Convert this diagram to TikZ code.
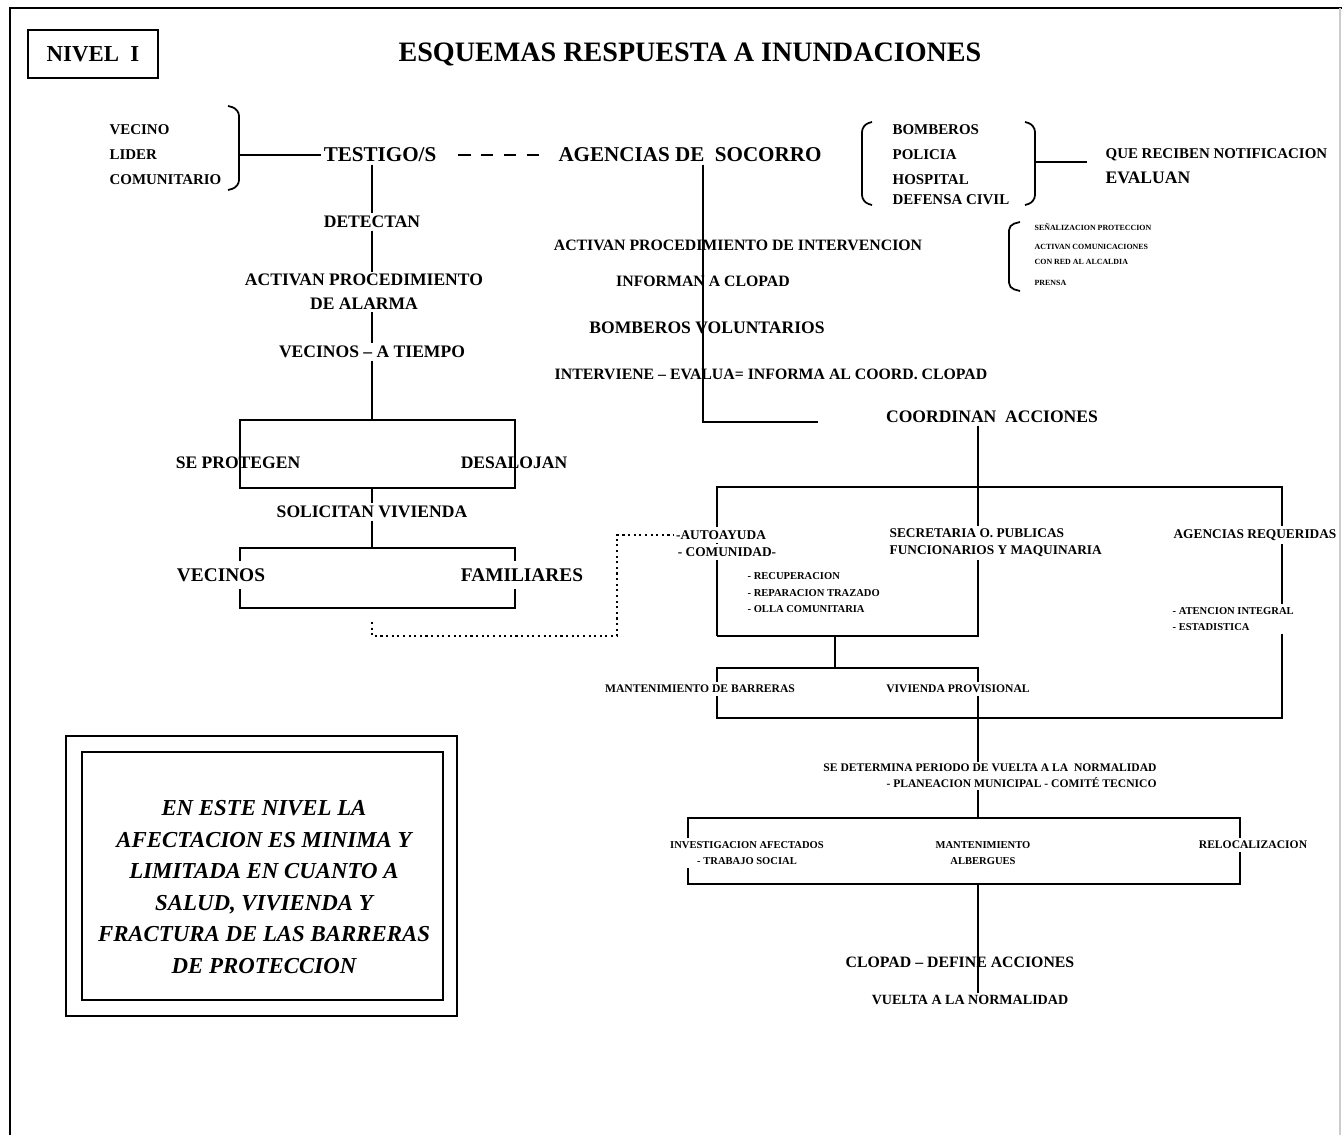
\documentclass[tikz,border=0pt]{standalone}
\usepackage{fontspec}
\setmainfont{Liberation Serif}
\usetikzlibrary{positioning, calc}

\tikzset{
  ttl/.style={font=\bfseries\fontsize{16}{19}\selectfont, inner sep=1pt},
  hd/.style={font=\bfseries\fontsize{12}{14}\selectfont, inner sep=1pt},
  lg/.style={font=\bfseries\fontsize{11}{13}\selectfont, inner sep=1pt},
  md/.style={font=\bfseries\fontsize{10}{13.6}\selectfont, inner sep=1pt},
  ms/.style={font=\bfseries\fontsize{9}{11}\selectfont, inner sep=1pt},
  ls/.style={font=\bfseries\fontsize{8.5}{14.2}\selectfont, inner sep=1pt},
  sm/.style={font=\bfseries\fontsize{7.6}{9.6}\selectfont, inner sep=1pt},
  xs/.style={font=\bfseries\fontsize{6.6}{9}\selectfont, inner sep=1pt},
  xt/.style={font=\bfseries\fontsize{6}{9.4}\selectfont, inner sep=1pt},
  xxs/.style={font=\bfseries\fontsize{4.5}{8.5}\selectfont, inner sep=1pt},
  note/.style={font=\bfseries\itshape\fontsize{13}{17.9}\selectfont, align=center},
  tapa/.style={fill=white, inner ysep=2pt},
}

\begin{document}
\begin{tikzpicture}[x=0.02cm, y=-0.02cm, line width=1pt]
  \useasboundingbox (0,0) rectangle (1342,1135);

  % frame and header
  \draw[line width=1.3pt] (10,1135) -- (10,8) -- (1342,8);
  \draw[gray!40] (1340,8) -- (1340,1135);
  \node[draw, line width=1.3pt, minimum width=2.6cm, minimum height=0.96cm,
        font=\bfseries\fontsize{13}{15}\selectfont] (nivel) at (93,54) {NIVEL\ \ I};
  \node[ttl] (titulo) at (690,54) {ESQUEMAS RESPUESTA A INUNDACIONES};

  % who detects
  \node[ls, anchor=west, align=left] (vecino) at (107,155) {VECINO\\LIDER\\COMUNITARIO};
  \draw[rounded corners=4pt] (228,106) -- (239,109) -- (239,187) -- (228,190);
  \coordinate (llave1) at (239,155);
  \node[hd] (testigo) at (380,155) {TESTIGO/S};
  \draw (llave1) -- (testigo);
  \node[hd] (agencias) at (690,155) {AGENCIAS DE\ \ SOCORRO};
  \draw[dash pattern=on 7pt off 6pt, shorten <=11pt, shorten >=8pt] (testigo) -- (agencias);

  % relief agencies
  \node[ls, anchor=west] (bomberos) at (890,130) {BOMBEROS};
  \node[ls, anchor=west] (policia) at (890,155) {POLICIA};
  \node[ls, anchor=west] (hospital) at (890,180) {HOSPITAL};
  \node[ls, anchor=west] (defensa) at (890,200) {DEFENSA CIVIL};
  \draw[rounded corners=4pt] (872,122) -- (862,125) -- (862,202) -- (872,205);
  \draw[rounded corners=4pt] (1025,122) -- (1035,125) -- (1035,202) -- (1025,205);
  \coordinate (llave2) at (1035,162);
  \node[ls, anchor=west] (notif) at (1103,155) {QUE RECIBEN NOTIFICACION};
  \node[md, anchor=west] (evaluan) at (1103,178) {EVALUAN};
  \draw[shorten >=9pt] (llave2) -- (llave2 -| evaluan.west);

  \draw[rounded corners=3pt] (1020,222) -- (1009,225) -- (1009,288) -- (1020,291);
  \node[xxs, anchor=west] (senal) at (1032,227) {SEÑALIZACION PROTECCION};
  \node[xxs, anchor=west, align=left] (comunic) at (1032,254) {ACTIVAN COMUNICACIONES\\CON RED AL ALCALDIA};
  \node[xxs, anchor=west] (prensa) at (1032,283) {PRENSA};

  % left column
  \node[md] (detectan) at (372,222) {DETECTAN};
  \node[md, align=center] (alarma) at (364,292) {ACTIVAN PROCEDIMIENTO\\DE ALARMA};
  \node[md] (tiempo) at (372,352) {VECINOS – A TIEMPO};
  \draw (detectan |- testigo.south) -- (detectan);
  \draw (detectan) -- (alarma.north -| detectan);
  \draw (alarma.south -| detectan) -- (tiempo);

  \coordinate (p1) at (240,420);
  \coordinate (p2) at (515,488);
  \draw (p1) rectangle (p2);
  \draw (tiempo) -- (tiempo |- p1);
  \node[md] (protegen) at (238,463) {SE PROTEGEN};
  \node[md] (desalojan) at (514,463) {DESALOJAN};

  \node[md] (solicitan) at (372,512) {SOLICITAN VIVIENDA};
  \draw (solicitan |- p2) -- (solicitan);
  \coordinate (q1) at (240,548);
  \coordinate (q2) at (515,608);
  \draw (q1) rectangle (q2);
  \draw (solicitan) -- (solicitan |- q1);
  \node[lg, tapa, inner ysep=4pt] (vecinos) at (221,575) {VECINOS};
  \node[lg, tapa, inner ysep=4pt] (familiares) at (522,575) {FAMILIARES};

  % middle column
  \node[ms] (intervencion) at (738,245) {ACTIVAN PROCEDIMIENTO DE INTERVENCION};
  \node[ms] (informan) at (703,281) {INFORMAN A CLOPAD};
  \node[md] (voluntarios) at (707,328) {BOMBEROS VOLUNTARIOS};
  \node[ms] (interviene) at (771,374) {INTERVIENE – EVALUA= INFORMA AL COORD. CLOPAD};
  \coordinate (m1) at (703,422);
  \coordinate (m2) at (818,422);
  \draw (agencias.south -| m1) -- (m1) -- (m2);

  % coordinated actions
  \node[md] (coordinan) at (992,417) {COORDINAN\ \ ACCIONES};
  \coordinate (c1) at (717,487);
  \coordinate (c2) at (978,487);
  \coordinate (c3) at (1282,487);
  \draw (coordinan.south -| c2) -- (c2);
  \draw (717,636) -- (c1) -- (c3) -- (1282,718) -- (717,718) -- (717,668) -- (978,668) -- (978,718);
  \draw (c2) -- (978,636) -- (717,636);
  \draw (835,636) -- (835,668);

  \node[sm, tapa] (autoayuda) at (721,535) {-AUTOAYUDA};
  \node[sm, tapa] (comunidad) at (727,552) {- COMUNIDAD-};
  \node[xt, anchor=west, align=left] (tareas) at (745,593) {- RECUPERACION\\- REPARACION TRAZADO\\- OLLA COMUNITARIA};
  \node[sm, tapa, anchor=west, align=left] (secretaria) at (887,543) {SECRETARIA O. PUBLICAS\\FUNCIONARIOS Y MAQUINARIA};
  \node[sm, tapa] (requeridas) at (1255,535) {AGENCIAS REQUERIDAS};
  \node[xt, tapa, anchor=west, align=left] (atencion) at (1170,619) {- ATENCION INTEGRAL\\- ESTADISTICA};
  \node[xs, tapa] (barreras) at (700,689) {MANTENIMIENTO DE BARRERAS};
  \node[xs, tapa] (provisional) at (958,689) {VIVIENDA PROVISIONAL};

  \coordinate (d0) at (372,622);
  \coordinate (d1) at (617,636);
  \draw[dotted, line width=1.2pt] (d0) |- (d1) |- (autoayuda.west);

  % back to normal
  \coordinate (e1) at (978,718);
  \coordinate (e2) at (978,818);
  \coordinate (e3) at (978,884);
  \node[xs, align=right] (determina) at (990,776) {SE DETERMINA PERIODO DE VUELTA A LA\ \ NORMALIDAD\\- PLANEACION MUNICIPAL - COMITÉ TECNICO};
  \draw (e1) -- (e1 |- determina.north);
  \draw (e1 |- determina.south) -- (e2);
  \coordinate (r1) at (688,818);
  \coordinate (r2) at (1240,884);
  \draw (r1) rectangle (r2);
  \node[xt, tapa, align=center] (investiga) at (747,853) {INVESTIGACION AFECTADOS\\- TRABAJO SOCIAL};
  \node[xt, tapa, align=center] (albergues) at (983,853) {MANTENIMIENTO\\ALBERGUES};
  \node[xs, tapa] (reloca) at (1253,845) {RELOCALIZACION};

  \node[ms] (clopad) at (960,962) {CLOPAD – DEFINE ACCIONES};
  \node[ms, font=\bfseries\fontsize{8}{10}\selectfont] (vuelta) at (970,1000) {VUELTA A LA NORMALIDAD};
  \draw (e3) -- (e3 |- vuelta.north);

  % level note
  \draw (66,736) rectangle (457,1016);
  \draw (82,752) rectangle (443,1000);
  \node[note] (nota) at (264,887) {EN ESTE NIVEL LA\\AFECTACION ES MINIMA Y\\LIMITADA EN CUANTO A\\SALUD, VIVIENDA Y\\FRACTURA DE LAS BARRERAS\\DE PROTECCION};
\end{tikzpicture}
\end{document}
